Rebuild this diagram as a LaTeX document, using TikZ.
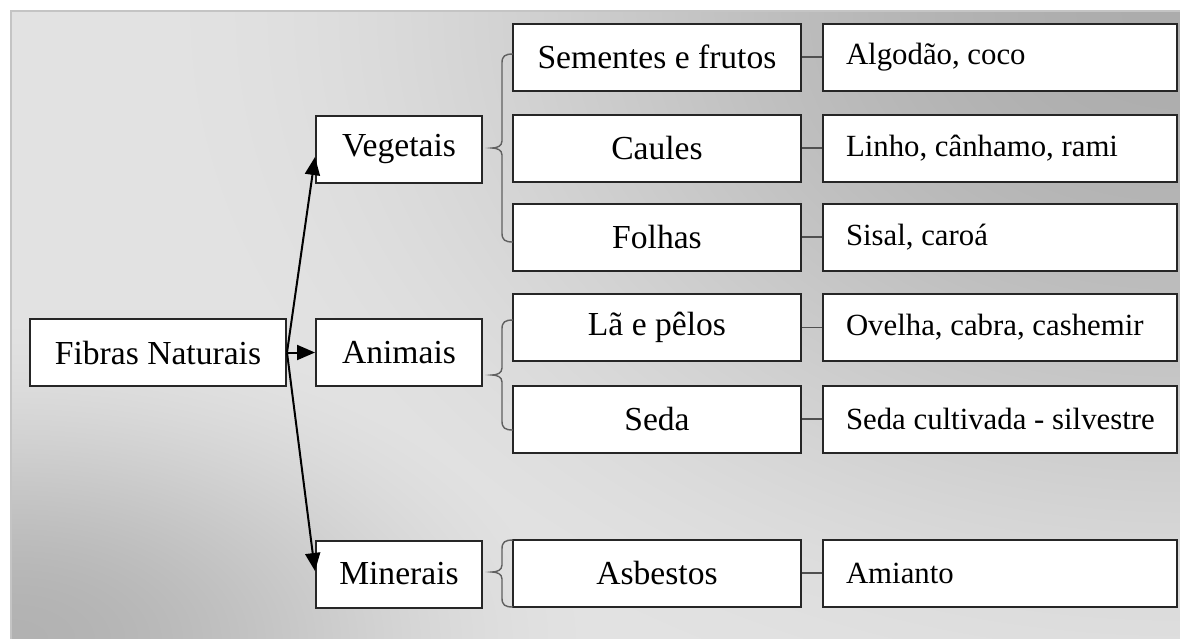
\documentclass[tikz,border=0pt]{standalone}
\usepackage{fontspec}
\setmainfont{Liberation Serif}
\usetikzlibrary{arrows.meta}
\definecolor{framegray}{HTML}{C4C4C4}
\definecolor{bracegray}{HTML}{606060}
\definecolor{linkgray}{HTML}{505050}
\newcommand\mybrace[3]{%
  \draw[brc] (513,#1) .. controls (505,#1) and (502,#1+2) .. (502,#1+9)
    -- (502,#3-7) .. controls (502,#3-2) and (497,#3) .. (492,#3)
    .. controls (497,#3) and (502,#3+2) .. (502,#3+7)
    -- (502,#2-9) .. controls (502,#2-2) and (505,#2) .. (513,#2);}
\newcommand\extext[1]{\makebox[154pt][l]{#1}}
\pgfdeclarefunctionalshading{bgshade}{\pgfpointorigin}{\pgfpoint{584.5pt}{314pt}}{}{
  2.0075 mul exch 2.0075 mul exch
  2 copy
  628 exch sub 760 div dup mul
  exch 1169 exch sub 1050 div dup mul
  add sqrt
  dup 1 gt {pop 1} if
  dup dup mul exch 2 mul 3 exch sub mul
  54 mul 172 add
  3 1 roll
  330 div dup mul
  exch 600 div dup mul add sqrt
  dup 1 gt {pop 1} if
  dup dup mul exch 2 mul 3 exch sub mul
  48 mul 178 add
  2 copy gt {exch} if pop
  255 div dup dup
}
\begin{document}
\begin{tikzpicture}[x=0.5pt,y=-0.5pt,
  box/.style={draw=black!85, line width=1pt, fill=white, minimum height=33.5pt,
    inner sep=0pt, font=\fontsize{16.8}{19}\selectfont},
  rootbox/.style={box, minimum width=128pt},
  catbox/.style={box, minimum width=83pt},
  subbox/.style={box, minimum width=144pt},
  exbox/.style={box, minimum width=177pt, inner xsep=11.5pt,
    font=\fontsize{15.4}{18}\selectfont},
  arr/.style={line width=1pt, -{Triangle[length=9pt,width=7.5pt]}},
  link/.style={draw=linkgray, line width=0.8pt},
  brc/.style={draw=bracegray, line width=0.7pt}]
\useasboundingbox (0,0) rectangle (1180,639);
\node[inner sep=0pt, anchor=south west] (bg) at (11,639) {\pgfuseshading{bgshade}};
\draw[framegray, line width=0.75pt] (1180,11) -- (11,11) -- (11,639);

% root and categories
\node[rootbox] (fib) at (158,352.5) {Fibras Naturais};
\node[catbox] (veg) at (399,149) {Vegetais};
\node[catbox] (ani) at (399,352.5) {Animais};
\node[catbox] (min) at (399,574) {Minerais};

% sub-categories
\node[subbox] (sem) at (657,57) {Sementes e frutos};
\node[subbox] (cau) at (657,148) {Caules};
\node[subbox] (fol) at (657,237) {Folhas};
\node[subbox] (la) at (657,327.5) {Lã e pêlos};
\node[subbox] (sed) at (657,419) {Seda};
\node[subbox] (asb) at (657,573) {Asbestos};

% examples
\node[exbox] (alg) at (1000,57) {\extext{Algodão, coco}};
\node[exbox] (lin) at (1000,148) {\extext{Linho, cânhamo, rami}};
\node[exbox] (sis) at (1000,237) {\extext{Sisal, caroá}};
\node[exbox] (ove) at (1000,327.5) {\extext{Ovelha, cabra, cashemir}};
\node[exbox] (sec) at (1000,419) {\extext{Seda cultivada - silvestre}};
\node[exbox] (ami) at (1000,573) {\extext{Amianto}};

% arrows
\draw[arr] (fib.east) -- ([yshift=-4pt]veg.west);
\draw[arr] (fib.east) -- (ani.west);
\draw[arr] (fib.east) -- ([yshift=1.5pt]min.west);

% links
\draw[link] (sem.east) -- (alg.west);
\draw[link] (cau.east) -- (lin.west);
\draw[link] (fol.east) -- (sis.west);
\draw[link] (la.east) -- (ove.west);
\draw[link] (sed.east) -- (sec.west);
\draw[link] (asb.east) -- (ami.west);

% braces
\mybrace{54}{242}{148}
\mybrace{320}{430}{375}
\mybrace{540}{607}{572}
\end{tikzpicture}
\end{document}
